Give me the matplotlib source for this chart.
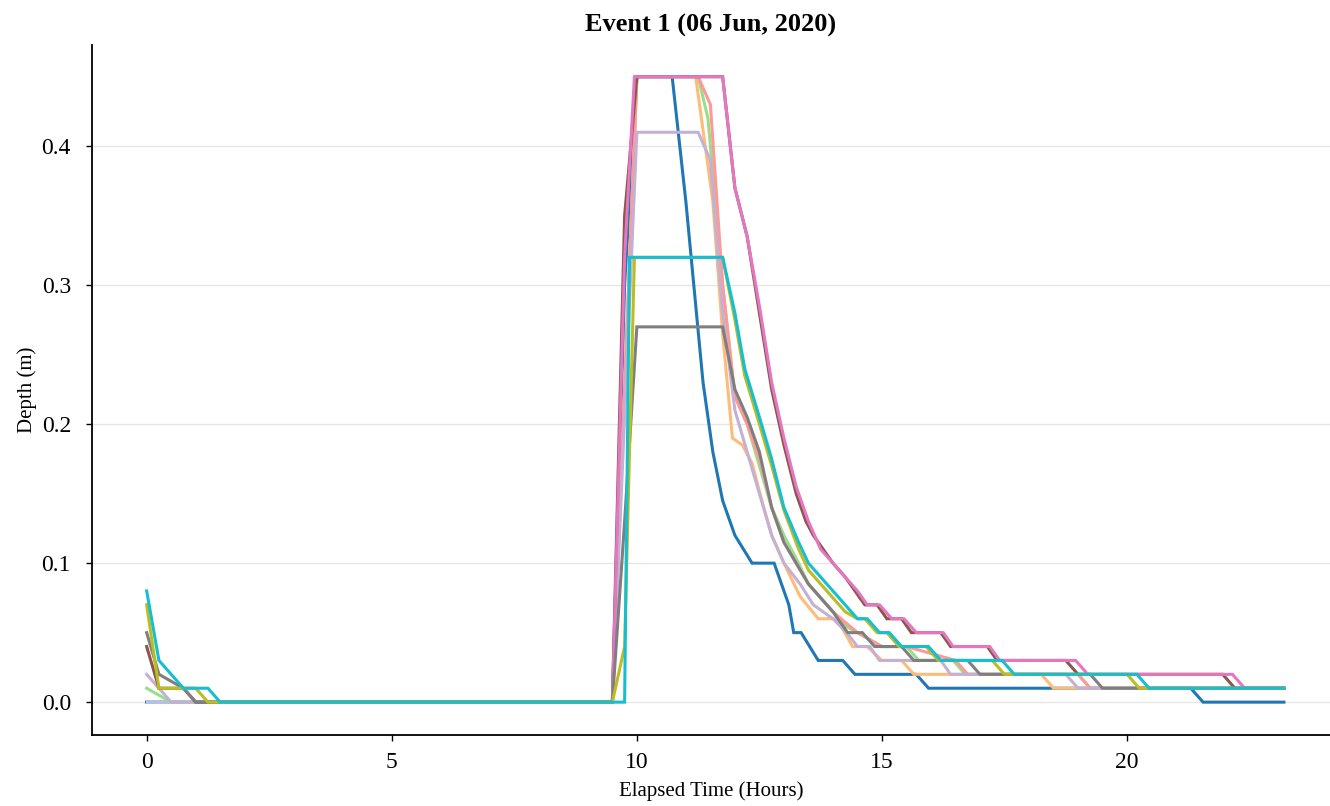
import matplotlib
matplotlib.use("Agg")
import matplotlib.pyplot as plt

plt.rcParams['font.family'] = ['Liberation Serif', 'DejaVu Serif']

title = "Event 1 (06 Jun, 2020)"
xlabel = "Elapsed Time (Hours)"
ylabel = "Depth (m)"
xticks = [0, 5, 10, 15, 20]
yticks = [0.0, 0.1, 0.2, 0.3, 0.4]

# Each series: vertex times (hours) and depths (m)
blue_t = [0, 9.5, 9.75, 10.0, 10.72, 11.0, 11.35, 11.55, 11.75, 12.0, 12.35, 12.8, 13.0, 13.1, 13.2, 13.35, 13.7, 14.2, 14.45, 15.7, 15.95, 21.3, 21.55, 23.2]
blue_v = [0, 0, 0.30, 0.45, 0.45, 0.36, 0.23, 0.18, 0.145, 0.12, 0.10, 0.10, 0.08, 0.07, 0.05, 0.05, 0.03, 0.03, 0.02, 0.02, 0.01, 0.01, 0.0, 0.0]

lblue_t = [0, 1.5, 9.5]
lblue_v = [0, 0, 0]

orange_t = [1.5, 9.5, 10.0, 11.2, 11.55, 11.75, 11.95, 12.15, 12.35, 12.55, 12.75, 13.0, 13.33, 13.7, 14.08, 14.4, 14.7, 15.0, 15.4, 15.65, 18.25, 18.5, 23.2]
orange_v = [0, 0, 0.45, 0.45, 0.36, 0.265, 0.19, 0.185, 0.172, 0.145, 0.12, 0.10, 0.076, 0.06, 0.06, 0.04, 0.04, 0.03, 0.03, 0.02, 0.02, 0.01, 0.01]

green_t = [0, 0.5, 9.5, 10.0, 11.25, 11.45, 11.75, 12.0, 12.25, 12.5, 12.75, 13.0, 13.3, 13.5, 13.75, 14.0, 14.25, 14.5, 14.75, 15.0, 15.5, 15.75, 16.45, 16.7, 19.0, 19.25, 23.2]
green_v = [0.01, 0, 0, 0.45, 0.45, 0.42, 0.30, 0.22, 0.20, 0.17, 0.14, 0.12, 0.10, 0.085, 0.075, 0.065, 0.055, 0.05, 0.045, 0.04, 0.04, 0.03, 0.03, 0.02, 0.02, 0.01, 0.01]

salmon_t = [1.5, 9.5, 10.0, 11.25, 11.5, 11.75, 12.0, 12.25, 12.5, 12.75, 13.0, 13.5, 14.0, 14.5, 15.0, 15.5, 16.5, 16.75, 19.0, 19.25, 23.2]
salmon_v = [0, 0, 0.45, 0.45, 0.43, 0.30, 0.22, 0.20, 0.175, 0.14, 0.115, 0.085, 0.065, 0.05, 0.04, 0.04, 0.03, 0.02, 0.02, 0.01, 0.01]

lav_t = [0, 0.5, 9.5, 10.0, 11.25, 11.5, 11.75, 12.0, 12.25, 12.5, 12.75, 13.0, 13.33, 13.6, 14.0, 14.28, 14.5, 14.75, 14.95, 16.2, 16.4, 18.75, 19.0, 23.2]
lav_v = [0.02, 0, 0, 0.41, 0.41, 0.39, 0.28, 0.21, 0.18, 0.15, 0.12, 0.10, 0.085, 0.07, 0.06, 0.05, 0.04, 0.04, 0.03, 0.03, 0.02, 0.02, 0.01, 0.01]

brown_t = [0, 0.25, 0.75, 1.0, 9.5, 9.75, 10.0, 11.75, 12.0, 12.25, 12.5, 12.75, 13.0, 13.25, 13.45, 13.6, 14.0, 14.25, 14.45, 14.65, 14.9, 15.1, 15.4, 15.6, 16.2, 16.4, 17.15, 17.35, 18.75, 19.0, 21.95, 22.2, 23.2]
brown_v = [0.04, 0.01, 0.01, 0, 0, 0.35, 0.45, 0.45, 0.37, 0.335, 0.28, 0.225, 0.185, 0.15, 0.13, 0.12, 0.10, 0.09, 0.08, 0.07, 0.07, 0.06, 0.06, 0.05, 0.05, 0.04, 0.04, 0.03, 0.03, 0.02, 0.02, 0.01, 0.01]

pink_t = [1.5, 9.5, 9.75, 9.95, 11.75, 12.0, 12.25, 12.5, 12.75, 13.0, 13.25, 13.5, 13.75, 14.0, 14.25, 14.5, 14.7, 14.95, 15.2, 15.45, 15.7, 16.25, 16.45, 17.2, 17.4, 18.95, 19.2, 22.15, 22.4, 23.2]
pink_v = [0, 0, 0.32, 0.45, 0.45, 0.37, 0.335, 0.285, 0.23, 0.19, 0.155, 0.13, 0.11, 0.10, 0.09, 0.08, 0.07, 0.07, 0.06, 0.06, 0.05, 0.05, 0.04, 0.04, 0.03, 0.03, 0.02, 0.02, 0.01, 0.01]

gray_t = [0, 0.25, 0.75, 1.0, 9.5, 9.75, 10.0, 11.75, 12.0, 12.25, 12.5, 12.75, 13.0, 13.3, 13.5, 13.75, 14.0, 14.3, 14.6, 14.85, 15.4, 15.65, 16.75, 17.0, 19.25, 19.5, 23.2]
gray_v = [0.05, 0.02, 0.01, 0, 0, 0.13, 0.27, 0.27, 0.225, 0.205, 0.18, 0.14, 0.115, 0.097, 0.085, 0.075, 0.065, 0.05, 0.05, 0.04, 0.04, 0.03, 0.03, 0.02, 0.02, 0.01, 0.01]

olive_t = [0, 0.25, 1.0, 1.25, 9.5, 9.75, 9.95, 11.75, 12.0, 12.2, 12.5, 12.75, 13.0, 13.3, 13.5, 13.75, 14.0, 14.25, 14.5, 14.65, 14.9, 15.1, 15.35, 15.9, 16.15, 17.25, 17.5, 20.0, 20.25, 23.2]
olive_v = [0.07, 0.01, 0.01, 0, 0, 0.04, 0.32, 0.32, 0.275, 0.235, 0.20, 0.17, 0.138, 0.11, 0.095, 0.085, 0.075, 0.065, 0.06, 0.06, 0.05, 0.05, 0.04, 0.04, 0.03, 0.03, 0.02, 0.02, 0.01, 0.01]

cyan_t = [0, 0.25, 0.75, 1.25, 1.5, 9.75, 9.85, 11.75, 12.0, 12.2, 12.5, 12.75, 13.0, 13.3, 13.5, 13.75, 14.0, 14.25, 14.5, 14.7, 14.95, 15.15, 15.4, 15.95, 16.2, 17.45, 17.7, 20.2, 20.45, 23.2]
cyan_v = [0.08, 0.03, 0.01, 0.01, 0, 0, 0.32, 0.32, 0.28, 0.24, 0.205, 0.175, 0.14, 0.115, 0.10, 0.09, 0.08, 0.07, 0.06, 0.06, 0.05, 0.05, 0.04, 0.04, 0.03, 0.03, 0.02, 0.02, 0.01, 0.01]

series = [
    (blue_t, blue_v, "#1f77b4"),
    (lblue_t, lblue_v, "#b9bfe0"),
    (orange_t, orange_v, "#ffbb78"),
    (green_t, green_v, "#98df8a"),
    (salmon_t, salmon_v, "#ff9896"),
    (lav_t, lav_v, "#c5b0d5"),
    (brown_t, brown_v, "#8c564b"),
    (pink_t, pink_v, "#e377c2"),
    (gray_t, gray_v, "#7f7f7f"),
    (olive_t, olive_v, "#bcbd22"),
    (cyan_t, cyan_v, "#17becf"),
]

fig = plt.figure(figsize=(13.3, 8.06), dpi=100)
ax = fig.add_axes([0.069, 0.088, 0.931, 0.856])

for t, v, c in series:
    ax.plot(t, v, color=c, lw=2.2, solid_joinstyle='miter')

ax.set_xlim(-1.12, 24.14)
ax.set_ylim(-0.0237, 0.4727)
ax.set_xticks(xticks)
ax.set_yticks(yticks)
ax.set_yticklabels([f"{y:.1f}" for y in yticks])
ax.grid(axis='y', color='#e6e6e6', lw=1.0)
ax.set_axisbelow(True)
for s in ['top', 'right']:
    ax.spines[s].set_visible(False)
for s in ['left', 'bottom']:
    ax.spines[s].set_linewidth(1.3)
    ax.spines[s].set_color('black')
ax.tick_params(axis='both', labelsize=17, length=4, width=1.0, colors='black')
ax.tick_params(axis='y', pad=11)
ax.tick_params(axis='x', pad=8)
ax.set_title(title, fontsize=19, fontweight='bold', pad=10)
ax.set_xlabel(xlabel, fontsize=15, labelpad=6)
ax.set_ylabel(ylabel, fontsize=15, labelpad=3)

fig.savefig("out.png", dpi=100)
